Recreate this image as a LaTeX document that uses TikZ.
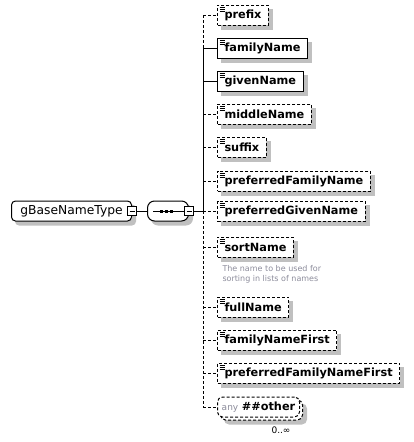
\documentclass[tikz,border=0pt]{standalone}
\usepackage{fontspec}
\setmainfont{DejaVu Sans}
\usetikzlibrary{backgrounds}
\definecolor{note}{RGB}{140,140,155}
\definecolor{shadowgray}{RGB}{192,192,192}

\begin{document}
\begin{tikzpicture}[x=1pt, y=-1pt, line width=1pt,
  opt line/.style={dash pattern=on 3pt off 2pt},
  elem line/.style={},
  elem/.style={draw, fill=white, anchor=west, minimum height=20pt, inner xsep=7pt, inner ysep=0pt,
    font=\fontsize{11.3}{13}\selectfont\bfseries,
    path picture={\foreach \k in {2,4,6} \draw[solid, line width=0.5pt] ([xshift=2pt, yshift=-\k pt]path picture bounding box.north west) -- ++(5,0);}},
  opt/.style={elem, opt line},
  minus/.style={draw, fill=white, minimum size=9pt, inner sep=0pt,
    path picture={\draw[line width=0.8pt] ([xshift=2pt]path picture bounding box.west) -- ([xshift=-2pt]path picture bounding box.east);}},
  shade/.style={fill=shadowgray, draw=none}]
  \useasboundingbox (0,0) rectangle (414,442);
  % root and sequence
  \node[draw, fill=white, rounded corners=4pt, anchor=west, minimum height=20pt, minimum width=120pt, inner ysep=0pt, font=\fontsize{12.3}{14}\selectfont] (base) at (11,211) {gBaseNameType};
  \node[minus] (min1) at (base.east) {};
  \node[draw, fill=white, rounded corners=7pt, anchor=west, minimum height=20pt, minimum width=41pt] (seq) at (147,211) {};
  \draw ([xshift=6pt]seq.west) -- ([xshift=-4pt]seq.east);
  \foreach \d in {-7,-2,3} \fill ([xshift=\d pt]seq.center) ++(-1.5,-1.5) rectangle ++(3,3);
  \node[minus] (min2) at (seq.east) {};
  \coordinate (j) at (203,211);
  \draw (min1.east) -- (seq.west);
  \draw (min2.east) -- (j);
  % children
  \foreach \name/\y/\sty in {prefix/15/opt, familyName/48/elem, givenName/81/elem, middleName/114/opt,
      suffix/147/opt, preferredFamilyName/181/opt, preferredGivenName/211/opt, sortName/247/opt,
      fullName/307/opt, familyNameFirst/340/opt, preferredFamilyNameFirst/373/opt} {
    \node[\sty] (\name) at (217,\y) {\name};
    \draw[\sty\space line] (j |- \name.west) -- (\name.west);
    \begin{scope}[on background layer]
      \fill[shade] ([shift={(4pt,-4pt)}]\name.south west) rectangle ([shift={(4pt,-4pt)}]\name.north east);
    \end{scope}
  }
  \node[anchor=north west, align=left, text=note, inner sep=0pt, font=\fontsize{8}{10}\selectfont] (sortNote) at (222,265) {The name to be used for\\sorting in lists of names};
  % wildcard
  \node[draw, fill=white, opt line, rounded corners=5pt, anchor=west, minimum height=20pt, minimum width=82pt] (back) at (220,410) {};
  \node[draw, fill=white, opt line, rounded corners=5pt, anchor=west, minimum height=20pt, minimum width=82pt, inner ysep=0pt, font=\fontsize{11.3}{13}\selectfont] (any) at (217,407) {\textcolor{note}{\fontsize{9}{11}\selectfont any} \bfseries\#\#other};
  \node[font=\fontsize{9}{11}\selectfont, inner sep=0pt] (occ) at (281,430) {0..∞};
  \draw[opt line] (j |- any.west) -- (any.west);
  % shadows of the other shapes
  \begin{scope}[on background layer]
    \foreach \n/\r in {base/4, seq/7, back/5}
      \fill[shade, rounded corners=\r pt] ([shift={(4pt,-4pt)}]\n.south west) rectangle ([shift={(4pt,-4pt)}]\n.north east);
  \end{scope}
  % spine
  \draw[opt line] (j |- prefix.west) -- (j |- familyName.west);
  \draw (j |- familyName.west) -- (j);
  \draw[opt line] (j) -- (j |- any.west);
\end{tikzpicture}
\end{document}
